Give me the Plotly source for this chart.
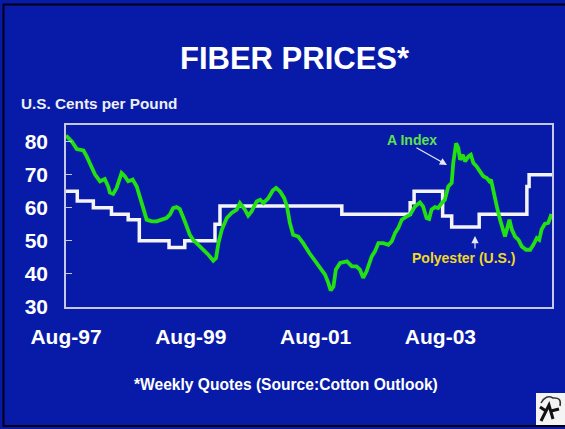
import plotly.graph_objects as go

# ---- data ----
a_index_dates = [
    "1997-08-01", "1997-09-04", "1997-10-03", "1997-11-11", "1997-11-30", "1997-12-29",
    "1998-01-18", "1998-02-16", "1998-03-16", "1998-04-05", "1998-04-15", "1998-05-04",
    "1998-05-24", "1998-06-22", "1998-07-11", "1998-07-31", "1998-08-26", "1998-09-19",
    "1998-10-18", "1998-11-16", "1998-12-15", "1999-01-14", "1999-02-12", "1999-03-12",
    "1999-04-01", "1999-04-20", "1999-05-10", "1999-05-29", "1999-06-27", "1999-07-27",
    "1999-08-15", "1999-09-14", "1999-10-13", "1999-11-12", "1999-12-11", "1999-12-27",
    "2000-01-10", "2000-01-30", "2000-02-28", "2000-03-27", "2000-04-26", "2000-05-15",
    "2000-06-13", "2000-07-02", "2000-07-22", "2000-08-21", "2000-09-10", "2000-09-29",
    "2000-10-28", "2000-11-23", "2000-12-12", "2001-01-05", "2001-01-29", "2001-02-14",
    "2001-03-03", "2001-03-22", "2001-04-21", "2001-05-20", "2001-06-25", "2001-07-28",
    "2001-08-27", "2001-09-25", "2001-10-14", "2001-10-28", "2001-11-13", "2001-11-27",
    "2001-12-22", "2002-01-31", "2002-03-01", "2002-03-28", "2002-04-17", "2002-05-06",
    "2002-05-26", "2002-06-25", "2002-07-14", "2002-08-03", "2002-09-01", "2002-09-30",
    "2002-10-20", "2002-11-09", "2002-11-28", "2002-12-18", "2003-01-07", "2003-02-05",
    "2003-03-05", "2003-04-03", "2003-04-22", "2003-05-12", "2003-05-27", "2003-06-10",
    "2003-06-30", "2003-07-19", "2003-08-08", "2003-08-27", "2003-09-16", "2003-10-06",
    "2003-10-15", "2003-11-01", "2003-11-14", "2003-11-24", "2003-12-10", "2003-12-23",
    "2004-01-12", "2004-01-26", "2004-02-10", "2004-02-29", "2004-03-19", "2004-04-08",
    "2004-04-28", "2004-05-13", "2004-05-23", "2004-06-06", "2004-06-26", "2004-07-15",
    "2004-07-31", "2004-08-13", "2004-08-29", "2004-09-08", "2004-09-22", "2004-10-11",
    "2004-10-31", "2004-11-19", "2004-12-14", "2005-01-07", "2005-01-26", "2005-02-15",
    "2005-03-01", "2005-03-15", "2005-04-04", "2005-04-23", "2005-05-12",
]
a_index_values = [
    81.8, 80.0, 77.7, 77.3, 75.5, 72.5,
    70.0, 68.0, 68.7, 66.4, 64.6, 64.2,
    66.0, 70.5, 69.5, 68.0, 68.5, 66.4,
    61.4, 56.4, 55.9, 55.9, 56.4, 56.9,
    57.9, 59.9, 60.2, 59.6, 55.9, 51.8,
    50.3, 48.8, 47.3, 45.8, 44.0, 44.8,
    49.3, 53.4, 56.9, 58.4, 59.4, 61.4,
    59.4, 57.6, 58.9, 61.9, 62.4, 61.4,
    62.9, 65.2, 66.0, 64.9, 62.9, 60.4,
    55.4, 51.8, 51.3, 49.3, 46.3, 43.8,
    41.8, 39.8, 37.3, 35.0, 36.2, 41.3,
    43.3, 43.8, 42.3, 42.3, 41.3, 38.8,
    40.8, 45.3, 46.8, 49.3, 49.3, 48.8,
    49.8, 52.4, 53.9, 56.4, 57.1, 57.9,
    60.4, 61.6, 60.3, 56.9, 56.6, 59.4,
    60.2, 59.9, 61.4, 62.4, 66.4, 67.5,
    73.5, 79.5, 78.0, 74.5, 76.0, 74.0,
    75.5, 76.0, 73.5, 72.5, 71.0, 69.5,
    69.0, 68.0, 68.5, 64.9, 60.4, 56.4,
    53.4, 51.3, 54.4, 56.4, 53.4, 51.3,
    50.3, 48.3, 47.3, 47.3, 48.8, 50.8,
    50.3, 53.4, 55.2, 55.4, 58.1,
]

polyester_dates = [
    "1997-08-01", "1997-10-06", "1998-01-08", "1998-04-24", "1998-07-31",
    "1998-10-04", "1999-03-27", "1999-06-27", "1999-12-21", "2000-01-19",
    "2002-01-01", "2003-02-05", "2003-02-28", "2003-08-14", "2003-10-06",
    "2004-03-15", "2004-12-19", "2005-01-01", "2005-05-15",
]
polyester_values = [
    65.0, 62.0, 60.0, 58.0, 56.4,
    50.0, 48.0, 50.0, 55.0, 60.5,
    58.0, 61.5, 65.0, 57.5, 54.2,
    58.0, 66.4, 70.0, 70.0,
]

x_tick_dates = ["1997-08-01", "1999-08-01", "2001-08-01", "2003-08-01"]
x_tick_labels = ["Aug-97", "Aug-99", "Aug-01", "Aug-03"]
y_ticks = [30, 40, 50, 60, 70, 80]

# ---- layout geometry (pixels) ----
W, H = 565, 429
L, R, T, B = 66, 552, 125, 307
BG = "#071ba8"
FONT = "Arial, Liberation Sans, sans-serif"


def px(x):
    return (x - L) / (R - L)


def py(y):
    return (B - y) / (B - T)


fig = go.Figure()
fig.add_trace(go.Scatter(
    x=polyester_dates, y=polyester_values, mode="lines", line_shape="hv",
    line=dict(color="#f4f4f4", width=3.5), name="Polyester (U.S.)", hoverinfo="skip",
))
fig.add_trace(go.Scatter(
    x=a_index_dates, y=a_index_values, mode="lines",
    line=dict(color="#22e012", width=3.8), name="A Index", hoverinfo="skip",
))

fig.update_layout(
    width=W, height=H,
    margin=dict(l=L, r=W - R, t=T, b=H - B, pad=0),
    paper_bgcolor=BG, plot_bgcolor=BG,
    showlegend=False,
    font=dict(family=FONT, color="white"),
    xaxis=dict(
        type="date", range=["1997-08-01", "2005-05-15"],
        tickvals=x_tick_dates, ticktext=x_tick_labels,
        showgrid=False, zeroline=False, ticks="",
        showline=True, mirror=True, linecolor="#c4c8e4", linewidth=1.5,
        tickfont=dict(size=21, color="white", family=FONT, weight="bold"),
        ticklabelstandoff=10,
    ),
    yaxis=dict(
        range=[30, 85], tickvals=y_ticks,
        showgrid=False, zeroline=False,
        ticks="inside", ticklen=6, tickcolor="#c4c8e4", tickwidth=1.2,
        showline=True, mirror=True, linecolor="#c4c8e4", linewidth=1.5,
        tickfont=dict(size=21, color="white", family=FONT, weight="bold"),
        ticklabelstandoff=12,
    ),
)

annotations = [
    dict(text="FIBER PRICES*", x=px(295), y=py(58), font=dict(size=31, color="white", family=FONT, weight="bold"),
         xanchor="center", yanchor="middle"),
    dict(text="U.S. Cents per Pound", x=px(19), y=py(103), font=dict(size=15.3, color="#eeeef6", family=FONT, weight="bold"),
         xanchor="left", yanchor="middle"),
    dict(text="*Weekly Quotes (Source:Cotton Outlook)", x=px(286), y=py(384),
         font=dict(size=15.6, color="white", family=FONT, weight="bold"), xanchor="center", yanchor="middle"),
    dict(text="A Index", x=px(412), y=py(140), font=dict(size=14, color="#5ee24c", family=FONT, weight="bold"),
         xanchor="center", yanchor="middle"),
    dict(text="Polyester (U.S.)", x=px(463), y=py(258), font=dict(size=14, color="#f2d827", family=FONT, weight="bold"),
         xanchor="center", yanchor="middle"),
    # arrows (tail offsets in pixels)
    dict(text="", x=px(447), y=py(165), ax=-32, ay=-18, axref="pixel", ayref="pixel",
         showarrow=True, arrowhead=2, arrowsize=1.2, arrowwidth=1.2, arrowcolor="#e8e8f4"),
    dict(text="", x=px(475), y=py(236), ax=0, ay=14, axref="pixel", ayref="pixel",
         showarrow=True, arrowhead=2, arrowsize=1.2, arrowwidth=1.2, arrowcolor="#e8e8f4"),
]
for a in annotations:
    a.setdefault("showarrow", False)
    a["xref"] = "paper"
    a["yref"] = "paper"
    fig.add_annotation(**a)

shapes = [
    # slide frame
    dict(type="rect", x0=px(3.5), x1=px(575), y0=py(4.5), y1=py(426), line=dict(color="#000010", width=2),
         fillcolor="rgba(0,0,0,0)", layer="below"),
    # small logo box bottom-right
    dict(type="rect", x0=px(536), x1=px(566), y0=py(393), y1=py(425), line=dict(width=0), fillcolor="#f4f4f4"),
    dict(type="path", path=f"M {px(541)},{py(421)} L {px(549)},{py(405)} L {px(553)},{py(419)} M {px(546)},{py(411)} L {px(540)},{py(407)} M {px(551)},{py(411)} L {px(559)},{py(409)}",
         line=dict(color="#111111", width=3)),
    dict(type="path", path=f"M {px(541)},{py(403)} Q {px(546)},{py(394)} {px(553)},{py(398)} Q {px(562)},{py(397)} {px(560)},{py(406)}",
         line=dict(color="#333333", width=1.5)),
]
for s in shapes:
    s["xref"] = "paper"
    s["yref"] = "paper"
    fig.add_shape(**s)

fig.write_html(
    "out.html",
    config={"displayModeBar": False},
    post_script="document.body.style.margin='0';document.body.style.padding='0';document.body.style.overflow='hidden';",
)
